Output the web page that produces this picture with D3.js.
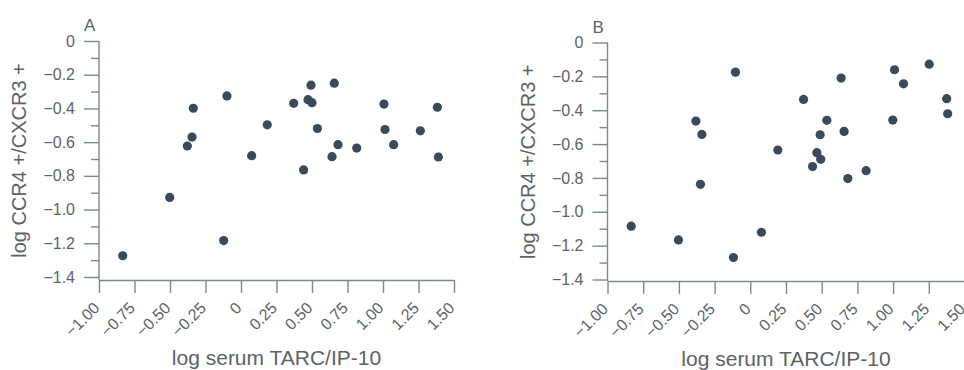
<!DOCTYPE html>
<html lang="en">
  <head>
    <meta charset="utf-8">
    <title>CCR4/CXCR3 vs serum TARC/IP-10</title>
    <script src="https://d3js.org/d3.v7.min.js"></script>
    <style>
      body { margin: 0; background: #fff; }
      text { font-family: "Liberation Sans", Arial, sans-serif; fill: #5c6367; }
    </style>
  </head>
  <body>
    <div id="viz"></div>
    <script type="text/javascript">
    // panel A values (log serum TARC/IP-10, log CCR4+/CXCR3+)
    var xA = [-0.833, -0.502, -0.336, -0.345, -0.378, -0.099, -0.122, 0.075, 0.185, 0.371, 0.472, 0.493, 0.500,
              0.441, 0.538, 0.657, 0.641, 0.683, 0.815, 1.007, 1.014, 1.075, 1.263, 1.383, 1.390];
    var yA = [-1.274, -0.928, -0.399, -0.570, -0.623, -0.326, -1.184, -0.680, -0.497, -0.370, -0.348, -0.262, -0.366,
              -0.765, -0.519, -0.250, -0.686, -0.615, -0.635, -0.374, -0.525, -0.615, -0.533, -0.393, -0.688];
    // panel B values
    var xB = [-0.834, -0.503, -0.381, -0.339, -0.349, -0.104, -0.118, 0.078, 0.193, 0.373, 0.436, 0.466, 0.493,
              0.489, 0.536, 0.636, 0.657, 0.683, 0.811, 1.010, 1.073, 0.998, 1.253, 1.375, 1.382];
    var yB = [-1.085, -1.166, -0.464, -0.543, -0.838, -0.175, -1.270, -1.121, -0.635, -0.336, -0.733, -0.651, -0.690,
              -0.545, -0.460, -0.210, -0.525, -0.804, -0.757, -0.161, -0.244, -0.458, -0.128, -0.332, -0.421];

    var xTicks = [-1.00, -0.75, -0.50, -0.25, 0, 0.25, 0.50, 0.75, 1.00, 1.25, 1.50];
    var yTicks = [0, -0.2, -0.4, -0.6, -0.8, -1.0, -1.2, -1.4];
    var yMinor = [-0.1, -0.3, -0.5, -0.7, -0.9, -1.1, -1.3];
    var xTitle = "log serum TARC/IP-10";
    var yTitle = "log CCR4 +/CXCR3 +";

    var w = 964, h = 370;
    var axisColor = "#7a8a91";
    var dotColor = "#3b4a5b";

    var svg = d3.select("#viz").append("svg")
        .attr("width", w)
        .attr("height", h);

    var fmtX = function(d) { return d === 0 ? "0" : d3.format(".2f")(d); };
    var fmtY = function(d) { return d === 0 ? "0" : d3.format(".1f")(d); };

    function panel(letter, xs, ys, left, right, top, bottom, axisY) {
      var x = d3.scaleLinear().domain([-1, 1.5]).range([left, right]);
      var y = d3.scaleLinear().domain([-1.4, 0]).range([bottom, top]);
      var g = svg.append("g");

      // x axis
      var gx = g.append("g")
          .attr("transform", "translate(0," + axisY + ")")
          .call(d3.axisBottom(x).tickValues(xTicks).tickFormat(fmtX).tickSizeInner(13).tickSizeOuter(0));
      gx.selectAll("text")
          .attr("x", 0).attr("y", 0).attr("dy", 0)
          .attr("transform", "translate(1,29) rotate(-45)")
          .style("text-anchor", "end");

      // y axis: major ticks with labels, minor ticks without
      var gy = g.append("g")
          .attr("transform", "translate(" + left + ",0)")
          .call(d3.axisLeft(y).tickValues(yTicks).tickFormat(fmtY).tickSizeInner(15).tickPadding(9).tickSizeOuter(0));
      gy.select(".domain").remove();
      var gm = g.append("g")
          .attr("transform", "translate(" + left + ",0)")
          .call(d3.axisLeft(y).tickValues(yMinor).tickFormat("").tickSizeInner(8).tickSizeOuter(0));
      gm.select(".domain").remove();
      g.append("line")
          .attr("x1", left).attr("x2", left)
          .attr("y1", y(0)).attr("y2", axisY);

      g.selectAll(".tick line, .domain, line")
          .attr("stroke", axisColor)
          .attr("stroke-width", 1.4);
      g.selectAll(".tick text")
          .attr("font-size", 16)
          .attr("font-family", "Liberation Sans, Arial, sans-serif")
          .attr("fill", "#5c6367");

      // titles
      g.append("text")
          .attr("x", (left + right) / 2)
          .attr("y", axisY + 85)
          .attr("text-anchor", "middle")
          .attr("font-size", 21)
          .text(xTitle);
      g.append("text")
          .attr("transform", "translate(" + (left - 73) + "," + ((y(0) + axisY) / 2) + ") rotate(-90)")
          .attr("text-anchor", "middle")
          .attr("font-size", 20)
          .text(yTitle);
      g.append("text")
          .attr("x", left - 15)
          .attr("y", y(0) - 10)
          .attr("font-size", 17)
          .text(letter);

      // points
      g.selectAll("circle")
          .data(xs.map(function(d, i) { return [d, ys[i]]; }))
          .enter()
          .append("circle")
          .attr("cx", function(d) { return x(d[0]); })
          .attr("cy", function(d) { return y(d[1]); })
          .attr("r", 4.6)
          .attr("fill", dotColor);
    }

    panel("A", xA, yA, 99, 454, 41, 277, 280);
    panel("B", xB, yB, 607.5, 964.5, 42.5, 279.5, 281);
    </script>
  </body>
</html>
